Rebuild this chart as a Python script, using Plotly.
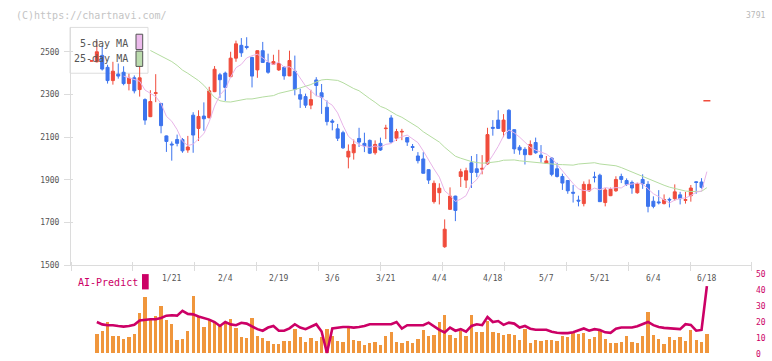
import plotly.graph_objects as go

W, H = 772, 361

# ---- price data (day index 0..114) ----
opens = [2456, 2453, 2483, 2427, 2365, 2395, 2404, 2351, 2378, 2323,
         2276, 2196, 2305, 2258, 2106, 2068, 2089, 2089, 2040, 2203,
         2141, 2199, 2191, 2313, 2392, 2400, 2383, 2470, 2530, 2525,
         2473, 2415, 2505, 2450, 2441, 2415, 2427, 2387, 2409, 2299,
         2290, 2250, 2368, 2308, 2240, 2176, 2139, 2121, 2007, 2027,
         2094, 2071, 2085, 2027, 2071, 2140, 2190, 2095, 2124, 2098,
         2056, 2012, 1998, 1948, 1798, 1840, 1587, 1762, 1824, 1916,
         1899, 1980, 1952, 1950, 1975, 2146, 2180, 2127, 2226, 2135,
         2053, 2043, 2018, 2075, 2016, 1977, 2002, 1952, 1916, 1897,
         1842, 1805, 1789, 1849, 1914, 1922, 1794, 1826, 1849, 1916,
         1897, 1888, 1840, 1902, 1879, 1800, 1797, 1789, 1809, 1812,
         1830, 1804, 1826, 1891, 1890]
highs = [2460, 2550, 2529, 2439, 2453, 2445, 2432, 2397, 2389, 2450,
         2282, 2320, 2395, 2260, 2108, 2080, 2112, 2096, 2106, 2217,
         2226, 2263, 2336, 2433, 2401, 2407, 2500, 2552, 2564, 2568,
         2477, 2506, 2546, 2491, 2486, 2509, 2432, 2505, 2482, 2327,
         2304, 2322, 2381, 2349, 2272, 2185, 2162, 2130, 2066, 2089,
         2144, 2121, 2089, 2085, 2098, 2158, 2203, 2139, 2139, 2100,
         2068, 2030, 2030, 1949, 1897, 1884, 1715, 1865, 1826, 1952,
         1957, 2012, 2021, 2016, 2144, 2180, 2226, 2208, 2231, 2136,
         2063, 2053, 2085, 2098, 2063, 2012, 2007, 1980, 1929, 1898,
         1876, 1826, 1893, 1902, 1938, 1929, 1862, 1864, 1917, 1929,
         1907, 1897, 1887, 1926, 1894, 1823, 1852, 1832, 1817, 1879,
         1844, 1844, 1876, 1894, 1908]
lows = [2454, 2450, 2412, 2351, 2346, 2374, 2343, 2319, 2305, 2290,
        2158, 2194, 2264, 2118, 2031, 1990, 2057, 2027, 2027, 2027,
        2082, 2130, 2188, 2311, 2284, 2270, 2381, 2453, 2476, 2511,
        2333, 2378, 2449, 2397, 2440, 2410, 2369, 2386, 2296, 2237,
        2237, 2231, 2292, 2209, 2155, 2132, 2082, 2045, 1954, 1995,
        2054, 2030, 2021, 2018, 2036, 2091, 2075, 2082, 2086, 2059,
        2036, 1977, 1930, 1881, 1789, 1785, 1582, 1760, 1707, 1867,
        1862, 1862, 1913, 1926, 1970, 2107, 2140, 2100, 2091, 2022,
        2018, 1972, 2016, 2022, 1981, 1975, 1917, 1911, 1853, 1835,
        1794, 1776, 1776, 1844, 1888, 1797, 1776, 1824, 1844, 1885,
        1872, 1835, 1835, 1858, 1748, 1767, 1785, 1785, 1771, 1803,
        1785, 1789, 1798, 1835, 1859]
closes = [2458, 2500, 2419, 2365, 2409, 2386, 2351, 2377, 2317, 2378,
          2180, 2267, 2308, 2154, 2080, 2064, 2071, 2036, 2054, 2110,
          2197, 2186, 2317, 2418, 2369, 2333, 2470, 2537, 2495, 2520,
          2386, 2505, 2450, 2404, 2454, 2445, 2387, 2459, 2324, 2278,
          2250, 2276, 2342, 2287, 2173, 2170, 2095, 2050, 2034, 2066,
          2077, 2059, 2025, 2066, 2040, 2142, 2077, 2126, 2127, 2077,
          2052, 1990, 1931, 1899, 1884, 1861, 1669, 1824, 1757, 1938,
          1943, 1935, 1935, 1954, 2112, 2142, 2141, 2180, 2095, 2045,
          2040, 2018, 2066, 2027, 2004, 1989, 1926, 1916, 1885, 1849,
          1838, 1801, 1879, 1879, 1911, 1798, 1853, 1856, 1902, 1902,
          1879, 1862, 1881, 1881, 1776, 1776, 1793, 1808, 1806, 1844,
          1812, 1808, 1862, 1888, 1865]
predict_next = 2270          # AI predicted price for the next day (6/18)

ma25_head = [2506, 2493, 2478, 2467, 2454, 2436, 2414, 2399, 2382, 2365, 2343, 2312, 2286]
ma25_head_start = 11
ma5_start = 6

# ---- lower panel (days 1..115) ----
volumes = [40, 46, 64, 36, 35, 30, 34, 40, 82, 116,
           69, 76, 98, 68, 60, 28, 30, 46, 118, 74,
           54, 68, 64, 56, 62, 70, 52, 34, 32, 73,
           36, 32, 26, 20, 20, 26, 26, 50, 34, 24,
           32, 26, 34, 50, 36, 26, 24, 52, 28, 26,
           18, 22, 24, 18, 36, 44, 24, 22, 26, 22,
           30, 48, 36, 38, 64, 78, 38, 32, 46, 36,
           78, 44, 44, 66, 44, 42, 38, 40, 38, 28,
           50, 22, 28, 26, 28, 28, 26, 36, 34, 42,
           40, 42, 30, 34, 46, 30, 22, 22, 24, 36,
           24, 22, 36, 84, 38, 30, 20, 34, 28, 34,
           26, 48, 28, 24, 40]
ai_predict = [20.0, 18.5, 18.0, 18.0, 17.5, 17.1, 17.5, 18.2, 21.0, 21.5,
              21.7, 21.7, 22.5, 24.0, 24.3, 24.0, 27.0, 25.1, 24.8, 23.5,
              22.5, 21.5, 20.0, 17.5, 20.0, 18.5, 18.0, 19.5, 19.0, 17.1,
              15.5, 14.5, 16.5, 17.5, 14.5, 14.5, 16.0, 18.6, 16.5, 15.5,
              17.0, 18.6, 14.0, 0.5, 16.0, 16.5, 16.9, 16.9, 16.5, 16.9,
              17.5, 18.6, 18.6, 18.6, 18.6, 18.6, 20.0, 15.9, 18.0, 18.0,
              18.0, 18.0, 19.6, 17.0, 15.0, 13.4, 16.5, 14.5, 15.5, 13.9,
              17.5, 18.6, 18.0, 23.1, 20.0, 20.6, 18.2, 19.6, 19.0, 16.5,
              17.5, 15.8, 15.1, 15.1, 15.1, 13.9, 13.2, 13.0, 13.0, 13.5,
              14.5, 15.9, 14.5, 15.5, 15.0, 13.5, 13.2, 15.8, 16.5, 16.5,
              16.5, 17.3, 18.5, 20.0, 18.0, 16.8, 16.3, 16.0, 15.9, 15.5,
              18.6, 18.2, 14.5, 15.0, 42.6]

date_labels = ["1/21", "2/4", "2/19", "3/6", "3/21", "4/4", "4/18", "5/7", "5/21", "6/4", "6/18"]
date_label_days = [15, 25, 35, 45, 55, 65, 75, 85, 95, 105, 115]

price_ticks = [1500, 1700, 1900, 2100, 2300, 2500]
ai_ticks = [0, 10, 20, 30, 40, 50]

# ---- derived series ----
n = len(closes)
days = list(range(n))
ext_closes = closes + [predict_next]
ext_days = list(range(n + 1))

ma5 = []
for j in ext_days:
    if j < ma5_start:
        ma5.append(None)
    else:
        ma5.append(sum(ext_closes[j - 4:j + 1]) / 5)

ma25 = []
for j in ext_days:
    if j < ma25_head_start:
        ma25.append(None)
    elif j < 24:
        ma25.append(ma25_head[j - ma25_head_start])
    else:
        ma25.append(sum(ext_closes[j - 24:j + 1]) / 25)

low_days = list(range(1, len(volumes) + 1))

# ---- geometry helpers (window pixel -> paper); page margin removed in post_script ----
def px(x):
    return x / W

def py(y):
    return 1 - y / H

PLOT_L, PLOT_R = 71, 752
X_RANGE = [-3.83, 123.43]
MONO = "DejaVu Sans Mono"
RED = "#f04c3c"
BLUE = "#3c74ee"
CRIMSON = "#cc0066"
AXIS = "#dcdcdc"

fig = go.Figure()

fig.add_trace(go.Scatter(x=ext_days, y=ma25, mode="lines",
                         line=dict(color="#b4dca0", width=1), hoverinfo="skip"))
fig.add_trace(go.Scatter(x=ext_days, y=ma5, mode="lines",
                         line=dict(color="#e8b4e8", width=1), hoverinfo="skip"))

fig.add_trace(go.Candlestick(
    x=days, open=opens, high=highs, low=lows, close=closes,
    increasing=dict(line=dict(color=RED, width=1), fillcolor=RED),
    decreasing=dict(line=dict(color=BLUE, width=1), fillcolor=BLUE),
    whiskerwidth=0,
))
fig.add_trace(go.Scatter(x=[n], y=[predict_next], mode="markers",
                         marker=dict(symbol="line-ew", size=5, line=dict(color=RED, width=1.5)),
                         hoverinfo="skip"))

fig.add_trace(go.Bar(x=low_days, y=volumes, marker=dict(color="#f0963c", line=dict(width=0)),
                     width=0.62, xaxis="x2", yaxis="y2"))
fig.add_trace(go.Scatter(x=low_days, y=ai_predict, mode="lines",
                         line=dict(color=CRIMSON, width=2.6), xaxis="x2", yaxis="y3"))

step = (X_RANGE[1] - X_RANGE[0]) / 11
grid_ticks = [X_RANGE[0] + k * step + (0.01 if k == 0 else (-0.01 if k == 11 else 0)) for k in range(12)]

fig.update_layout(
    width=W, height=H,
    margin=dict(l=0, r=0, t=0, b=0),
    paper_bgcolor="white", plot_bgcolor="white",
    showlegend=False,
    boxgap=0.2,
    bargap=0,
    font=dict(family=MONO, size=8, color="#555"),
    xaxis=dict(domain=[px(PLOT_L), px(PLOT_R)], range=X_RANGE,
               rangeslider=dict(visible=False),
               showgrid=False, zeroline=False,
               showline=True, linecolor=AXIS, linewidth=1,
               tickmode="array", tickvals=grid_ticks, showticklabels=False,
               ticks="outside", ticklen=5, tickcolor=AXIS, tickwidth=1,
               minor=dict(tickmode="array", tickvals=grid_ticks, ticks="inside",
                          ticklen=3, tickcolor=AXIS, tickwidth=1, showgrid=False),
               anchor="y"),
    yaxis=dict(domain=[py(268), py(24)], range=[1500, 2614],
               showgrid=False, zeroline=False,
               showline=True, linecolor=AXIS, linewidth=1,
               tickmode="array", tickvals=price_ticks,
               ticks="outside", ticklen=6, tickcolor=AXIS, tickwidth=1,
               minor=dict(tickmode="array", tickvals=price_ticks, ticks="inside",
                          ticklen=2, tickcolor=AXIS, tickwidth=1, showgrid=False),
               tickfont=dict(family=MONO, size=8, color="#555"),
               ticklabelstandoff=3,
               anchor="x"),
    xaxis2=dict(domain=[px(PLOT_L), px(PLOT_R)], range=X_RANGE, matches="x",
                showgrid=False, zeroline=False, showline=False,
                showticklabels=False, ticks="", anchor="y2"),
    yaxis2=dict(domain=[py(358.7), py(277.3)], range=[0, 162.8],
                showgrid=False, zeroline=False, showline=False,
                showticklabels=False, ticks="", anchor="x2"),
    yaxis3=dict(domain=[py(358.7), py(277.3)], range=[0, 50], overlaying="y2",
                side="right", anchor="x2",
                showgrid=False, zeroline=False, showline=False, ticks="",
                tickmode="array", tickvals=ai_ticks,
                tickfont=dict(family=MONO, size=8, color=CRIMSON),
                ticklabelstandoff=3),
)

shapes = [
    dict(type="rect", xref="paper", yref="paper", x0=px(70), x1=px(148), y0=py(71), y1=py(24),
         line=dict(color="#dddddd", width=1), fillcolor="white", layer="below"),
    dict(type="rect", xref="paper", yref="paper", x0=px(136), x1=px(142.7), y0=py(46.7), y1=py(31),
         line=dict(color="#555555", width=1), fillcolor="#ecbbec", layer="above"),
    dict(type="rect", xref="paper", yref="paper", x0=px(136), x1=px(142.7), y0=py(64), y1=py(48.3),
         line=dict(color="#555555", width=1), fillcolor="#bcdcae", layer="above"),
    dict(type="rect", xref="paper", yref="paper", x0=px(142), x1=px(148.7), y0=py(292.7), y1=py(277),
         line=dict(width=0), fillcolor=CRIMSON, layer="above"),
]
fig.update_layout(shapes=shapes)

ann = [
    dict(text="(C)https://chartnavi.com/", x=px(14), y=py(12), xanchor="left", yanchor="middle",
         font=dict(family=MONO, size=10, color="#c4c4c4")),
    dict(text="3791", x=px(767), y=py(12), xanchor="right", yanchor="middle",
         font=dict(family=MONO, size=8, color="#b8b8b8")),
    dict(text="5-day MA", x=px(130), y=py(40), xanchor="right", yanchor="middle",
         font=dict(family=MONO, size=10, color="#555")),
    dict(text="25-day MA", x=px(130), y=py(56), xanchor="right", yanchor="middle",
         font=dict(family=MONO, size=10, color="#555")),
    dict(text="AI-Predict", x=px(76), y=py(285.5), xanchor="left", yanchor="middle",
         font=dict(family=MONO, size=10, color=CRIMSON)),
]
for lab, d in zip(date_labels, date_label_days):
    ann.append(dict(text=lab, x=d, xref="x", y=py(282), yref="paper",
                    xanchor="center", yanchor="middle", showarrow=False,
                    font=dict(family=MONO, size=8, color="#555")))
for a in ann:
    a.setdefault("xref", "paper")
    a.setdefault("yref", "paper")
    a["showarrow"] = False
fig.update_layout(annotations=ann)

fig.write_html("out.html",
               config={"displayModeBar": False},
               post_script="document.body.style.margin='0';document.body.style.overflow='hidden';")
